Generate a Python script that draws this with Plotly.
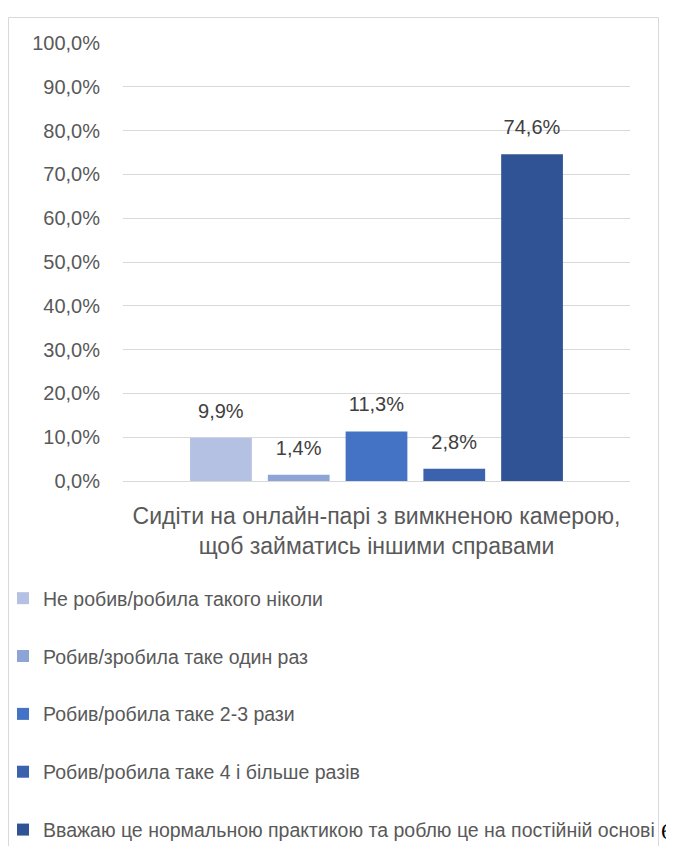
import plotly.graph_objects as go

category = ["Сидіти на онлайн-парі з вимкненою камерою,<br>щоб займатись іншими справами"]
series_names = [
    "Не робив/робила такого ніколи",
    "Робив/зробила таке один раз",
    "Робив/робила таке 2-3 рази",
    "Робив/робила таке 4 і більше разів",
    "Вважаю це нормальною практикою та роблю це на постійній основі",
]
values = [0.099, 0.014, 0.113, 0.028, 0.746]
colors = ["#b4c1e2", "#8fa4d6", "#4472c4", "#3b62ad", "#2f5394"]

# page body has an 8px margin: screen coords = figure coords + 8;
# figure sized so the page does not overflow the 674x854 window
OFF = 8
W, H = 674 - OFF, 854 - 2 * OFF
ML, MR, MT, MB = 123 - OFF, W - (630 - OFF), 43 - OFF, H - (481 - OFF)
PW, PH = W - ML - MR, H - MT - MB

def px(x):  # x in screen pixels -> paper
    return (x - OFF - ML) / PW

def py(y):  # y in screen pixels -> paper
    return (H - MB - (y - OFF)) / PH

FONT = "Liberation Sans, Arial, sans-serif"
LABEL_PAD = 0.03  # gap between bar top and its value label (axis units)

fig = go.Figure()
for i, (name, v, c) in enumerate(zip(series_names, values, colors)):
    fig.add_trace(go.Bar(
        x=category, y=[v], name=name, marker_color=c, marker_line_width=0,
        offsetgroup=str(i), legendgroup=f"g{i}", hoverinfo="y",
    ))
for i, v in enumerate(values):
    fig.add_trace(go.Bar(
        x=category, y=[LABEL_PAD], base=[v], customdata=[v],
        marker_color="rgba(0,0,0,0)", marker_line_width=0,
        texttemplate="%{customdata:.1%}", textposition="outside",
        textfont=dict(size=20, color="#404040", family=FONT),
        cliponaxis=False, offsetgroup=str(i), showlegend=False, hoverinfo="skip",
    ))

fig.update_layout(
    width=W, height=H,
    margin=dict(l=ML, r=MR, t=MT, b=MB, autoexpand=False),
    paper_bgcolor="white", plot_bgcolor="white",
    separators=", ",
    barmode="group", bargap=0.233, bargroupgap=0.206,
    font=dict(family=FONT, color="#595959"),
    showlegend=True,
    legend=dict(
        orientation="v", x=px(3), xanchor="left", y=py(579), yanchor="top",
        font=dict(size=19.5, color="#595959", family=FONT),
        tracegroupgap=29.5, bgcolor="rgba(255,255,255,0)", maxheight=900,
    ),
    xaxis=dict(
        type="category", showgrid=False, showline=False, ticks="",
        tickfont=dict(size=23, color="#595959", family=FONT),
        ticklabelstandoff=19,
    ),
    yaxis=dict(
        range=[0, 1.0], dtick=0.1, tickformat=".1%",
        showgrid=True, gridcolor="#d9d9d9", gridwidth=1,
        zeroline=True, zerolinecolor="#d9d9d9", zerolinewidth=1,
        showline=False, ticks="",
        tickfont=dict(size=20, color="#595959", family=FONT),
        ticklabelstandoff=22,
    ),
    shapes=[dict(
        type="rect", xref="paper", yref="paper",
        x0=px(8.5), x1=px(658.5), y0=py(900), y1=py(17.5),
        line=dict(color="#d9d9d9", width=1), fillcolor="rgba(0,0,0,0)", layer="below",
    )],
    annotations=[dict(
        text="6", xref="paper", yref="paper", x=px(659), y=py(846),
        xanchor="left", yanchor="bottom", showarrow=False,
        font=dict(family="Liberation Serif, Times New Roman, serif", size=24, color="black"),
    )],
)

fig.write_html("out.html")
